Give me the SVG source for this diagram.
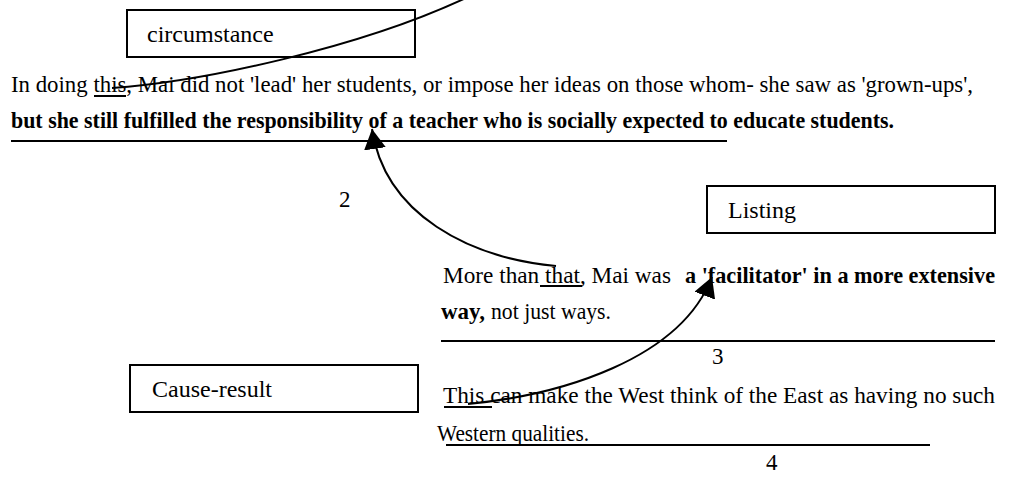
<svg xmlns="http://www.w3.org/2000/svg" width="1011" height="489" viewBox="0 0 1011 489">
  <style>
    .t{font-family:"Liberation Serif","Times New Roman",serif;font-size:23px;fill:#000}
    .b{font-weight:bold;font-size:23px}
    .lbl{font-family:"Liberation Serif","Times New Roman",serif;font-size:24px;fill:#000}
    .box{fill:#fff;stroke:#000;stroke-width:2}
    .ul{stroke:#000;stroke-width:2}
    .arc{fill:none;stroke:#000;stroke-width:2}
  </style>
  <defs>
    <marker id="head" markerUnits="userSpaceOnUse" markerWidth="20" markerHeight="22" viewBox="0 0 20 22" refX="20" refY="11" orient="auto">
      <path d="M0,0 L20,11 L0,22 z" fill="#000"/>
    </marker>
  </defs>
  <rect width="1011" height="489" fill="#fff"/>

  <!-- relation labels -->
  <g id="circumstance">
    <rect class="box" x="127" y="10" width="288" height="47"/>
    <text class="lbl" x="147" y="42">circumstance</text>
  </g>
  <g id="listing">
    <rect class="box" x="707" y="186" width="288" height="47"/>
    <text class="lbl" x="728" y="218">Listing</text>
  </g>
  <g id="cause-result">
    <rect class="box" x="130" y="365" width="288" height="47"/>
    <text class="lbl" x="152" y="397">Cause-result</text>
  </g>

  <!-- sentence 1 -->
  <g id="sentence1">
    <text class="t" x="11" y="92" textLength="962" lengthAdjust="spacingAndGlyphs">In doing this, Mai did not 'lead' her students, or impose her ideas on   those whom- she saw as 'grown-ups',</text>
    <line class="ul" x1="94" y1="96" x2="126" y2="96"/>
  </g>
  <g id="sentence2">
    <text class="t b" x="11" y="128" textLength="883" lengthAdjust="spacingAndGlyphs">but she still fulfilled the responsibility of a teacher who is socially expected to educate students.</text>
    <line class="ul" x1="11" y1="141" x2="727" y2="141"/>
  </g>
  <text id="num2" class="t" x="339" y="207">2</text>

  <g id="sentence3">
    <text class="t" x="443" y="283" textLength="228" lengthAdjust="spacingAndGlyphs">More than that, Mai was</text>
    <text class="t b" x="685" y="283" textLength="310" lengthAdjust="spacingAndGlyphs">a 'facilitator' in a more extensive</text>
    <text class="t b" x="441" y="319" textLength="44" lengthAdjust="spacingAndGlyphs">way,</text>
    <text class="t" x="491" y="319" textLength="120" lengthAdjust="spacingAndGlyphs">not just ways.</text>
    <line class="ul" x1="540" y1="286" x2="582" y2="286"/>
    <line class="ul" x1="441" y1="341" x2="995" y2="341"/>
  </g>
  <text id="num3" class="t" x="712" y="364">3</text>

  <g id="sentence4">
    <text class="t" x="443" y="403" textLength="552" lengthAdjust="spacingAndGlyphs">This can make the West think of the East as having no such</text>
    <text class="t" x="437" y="441" textLength="152" lengthAdjust="spacingAndGlyphs">Western qualities.</text>
    <line class="ul" x1="444" y1="407" x2="492" y2="407"/>
    <line class="ul" x1="446" y1="445" x2="930" y2="445"/>
  </g>
  <text id="num4" class="t" x="766" y="470">4</text>

  <!-- connectors -->
  <g id="connectors">
    <path class="arc" d="M112,88 C200,82 360,48 468,-3"/>
    <path class="arc" d="M556,266 C470,258 385,215 372,129" marker-end="url(#head)"/>
    <path class="arc" d="M468,404 C560,395 680,360 712,277" marker-end="url(#head)"/>
  </g>
</svg>
